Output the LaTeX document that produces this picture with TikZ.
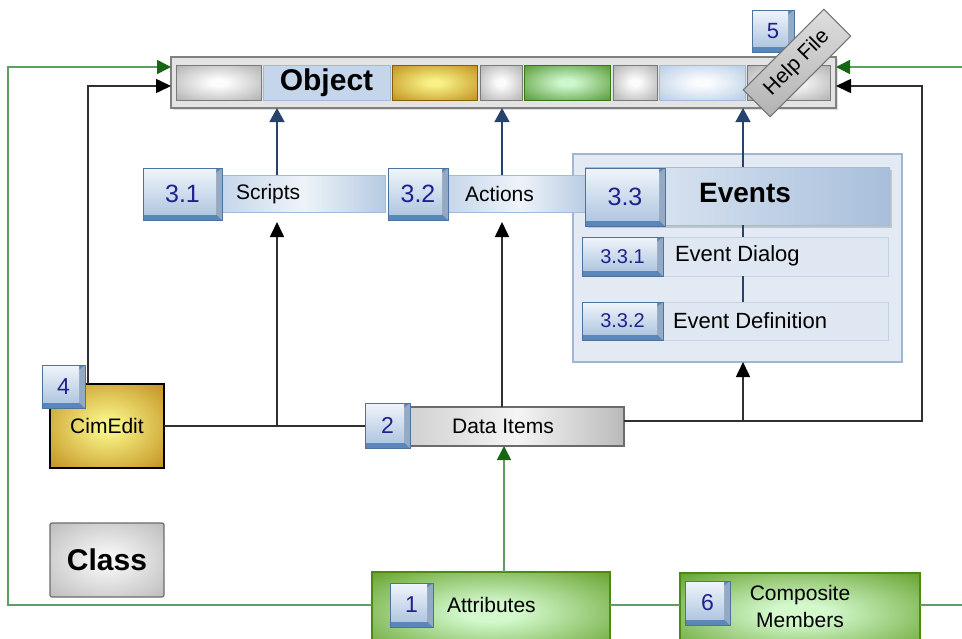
\documentclass[tikz,border=0pt]{standalone}
\usepackage{fontspec}
\setmainfont{Liberation Sans}
\usetikzlibrary{arrows.meta,calc,shadows}
\definecolor{navyline}{HTML}{27436C}
\definecolor{numblue}{HTML}{20208F}
\definecolor{glight}{HTML}{5E9E5E}
\definecolor{gdark}{HTML}{156615}
\definecolor{bline}{HTML}{303030}
\definecolor{badgeedge}{HTML}{5A86BA}
\definecolor{badgeside}{HTML}{93A9C4}
\definecolor{badgehi}{HTML}{F0F5FB}
\definecolor{badgelo}{HTML}{B2C7E0}
\definecolor{barL}{HTML}{C6D6EA}
\definecolor{barM}{HTML}{EEF3F9}
\definecolor{barR}{HTML}{B6CAE2}
\definecolor{barB}{HTML}{A3BAD8}
% soft radial shadings
\definecolor{grayIn}{HTML}{FCFCFC}\definecolor{grayOut}{HTML}{B4B4B4}
\definecolor{goldIn}{HTML}{F8F286}\definecolor{goldOut}{HTML}{C49624}
\definecolor{grnIn}{HTML}{D2F8CC}\definecolor{grnOut}{HTML}{5E9C22}
\definecolor{sgIn}{HTML}{CCF6CC}\definecolor{sgOut}{HTML}{5E9E3E}
\definecolor{bluIn}{HTML}{FAFCFE}\definecolor{bluOut}{HTML}{B6CBE4}
\definecolor{clsIn}{HTML}{F6F6F6}\definecolor{clsOut}{HTML}{B8B8B8}
\pgfdeclareradialshading{graysoft}{\pgfpoint{0bp}{0bp}}{color(0bp)=(grayIn); color(5bp)=(grayIn); color(34bp)=(grayOut); color(50bp)=(grayOut)}
\pgfdeclareradialshading{goldsoft}{\pgfpoint{0bp}{0bp}}{color(0bp)=(goldIn); color(4bp)=(goldIn); color(34bp)=(goldOut); color(50bp)=(goldOut)}
\pgfdeclareradialshading{grnsoft}{\pgfpoint{0bp}{0bp}}{color(0bp)=(grnIn); color(6bp)=(grnIn); color(38bp)=(grnOut); color(50bp)=(grnOut)}
\pgfdeclareradialshading{sgsoft}{\pgfpoint{0bp}{0bp}}{color(0bp)=(sgIn); color(5bp)=(sgIn); color(34bp)=(sgOut); color(50bp)=(sgOut)}
\pgfdeclareradialshading{blusoft}{\pgfpoint{0bp}{0bp}}{color(0bp)=(bluIn); color(5bp)=(bluIn); color(36bp)=(bluOut); color(50bp)=(bluOut)}
\pgfdeclareradialshading{clssoft}{\pgfpoint{0bp}{0bp}}{color(0bp)=(clsIn); color(4bp)=(clsIn); color(38bp)=(clsOut); color(50bp)=(clsOut)}
\begin{document}
\begin{tikzpicture}[x=1pt,y=-1pt,
  font=\fontsize{21}{26}\selectfont,
  base/.style={anchor=north west, inner sep=0pt, outer sep=0pt},
  badge/.style={base, fill=badgeedge, draw=badgeedge!85!black, line width=0.4pt, text=numblue,
    path picture={
      \fill[badgeside] ([shift={(-6pt,-5pt)}]path picture bounding box.north east) --
        (path picture bounding box.north east) -- (path picture bounding box.south east) --
        ([shift={(-6pt,6pt)}]path picture bounding box.south east) -- cycle;
      \shade[top color=badgehi, bottom color=badgelo]
        (path picture bounding box.north west) rectangle ([shift={(-6pt,6pt)}]path picture bounding box.south east);}},
  objouter/.style={base, fill=black!11, draw=black!50, line width=1.5pt, drop shadow={shadow xshift=2pt, shadow yshift=-2pt, opacity=0.25}},
  seg/.style={base, minimum height=35pt, line width=1pt},
  seggray/.style={shade, shading=graysoft, draw=black!52},
  segblue/.style={fill=barL, draw=barB},
  segblue2/.style={shade, shading=blusoft, draw=barB},
  seggold/.style={shade, shading=goldsoft, draw={rgb,255:red,130;green,95;blue,10}},
  seggreen/.style={shade, shading=sgsoft, draw={rgb,255:red,55;green,120;blue,20}},
  helpbox/.style={top color=black!13, bottom color=black!30, draw=black!55, line width=1pt, inner sep=0pt},
  bluebar/.style={base, left color=barL, right color=barR, middle color=barM, draw=barB, line width=0.8pt},
  group/.style={base, fill={rgb,255:red,227;green,234;blue,243}, draw={rgb,255:red,158;green,182;blue,212}, line width=1.2pt},
  evbox/.style={base, left color={rgb,255:red,230;green,237;blue,246}, right color={rgb,255:red,168;green,191;blue,219}, draw=barB, line width=0.8pt, drop shadow={shadow xshift=3pt, shadow yshift=-3pt, opacity=0.35}},
  evrow/.style={base, fill={rgb,255:red,222;green,231;blue,242}, draw={rgb,255:red,196;green,210;blue,229}, line width=0.8pt},
  databar/.style={base, left color=black!18, right color=black!27, middle color=black!4, draw=black!58, line width=1.2pt},
  cimbox/.style={base, shade, shading=goldsoft, draw=black, line width=1.2pt},
  classbox/.style={base, shade, shading=clssoft, draw=black!58, line width=1.2pt, rounded corners=2pt},
  greenbox/.style={base, shade, shading=grnsoft, draw={rgb,255:red,76;green,139;blue,16}, line width=2.4pt},
  txt/.style={inner sep=0pt, outer sep=0pt},
  gline/.style={draw=glight, line width=1.6pt},
  gconn/.style={gline, -{Triangle[width=14pt,length=14pt,color=gdark]}},
  bconn/.style={draw=bline, line width=1.6pt, -{Triangle[width=14pt,length=15pt,color=black]}},
  bplain/.style={draw=bline, line width=1.6pt},
  nconn/.style={draw=navyline, line width=1.4pt, -{Triangle[width=15pt,length=14pt,color=navyline]}},
  nline/.style={draw=navyline, line width=1.6pt}
]
\useasboundingbox (0,0) rectangle (962,638);
\clip (0,0) rectangle (962,638);

% ---------- Object bar ----------
\node[objouter, minimum width=665pt, minimum height=51pt] (obj) at (171,57) {};
\node[seg, seggray, minimum width=85pt] (sgA) at (176,65) {};
\node[seg, segblue, minimum width=127pt, font=\fontsize{30}{34}\selectfont\bfseries] (sgObj) at (263,65) {Object};
\node[seg, seggold, minimum width=85pt] (sgGold) at (392,65) {};
\node[seg, seggray, minimum width=42pt] (sgB) at (480,65) {};
\node[seg, seggreen, minimum width=86pt] (sgGreen) at (524,65) {};
\node[seg, seggray, minimum width=44pt] (sgC) at (613,65) {};
\node[seg, segblue2, minimum width=86pt] (sgBlue) at (659,65) {};
\node[seg, seggray, minimum width=83pt] (sgD) at (747,65) {};

% ---------- Help file ----------
\node[badge, minimum width=42pt, minimum height=42pt, font=\fontsize{22}{26}\selectfont] (b5) at (752,10) {5\hspace{5pt}};
\node[helpbox, rotate=45, minimum width=114pt, minimum height=38pt, font=\fontsize{21}{25}\selectfont] (help) at (797,63) {Help File};

% ---------- Events group ----------
\node[group, minimum width=329pt, minimum height=208pt] (grp) at (573,154) {};

% ---------- Scripts / Actions ----------
\node[bluebar, minimum width=163pt, minimum height=37pt] (scripts) at (222,175) {};
\node[txt, anchor=west] (tscripts) at (236,194) {Scripts};
\node[badge, minimum width=79pt, minimum height=52pt, font=\fontsize{25}{28}\selectfont] (b31) at (143,168) {3.1\hspace{6pt}};
\node[bluebar, minimum width=142pt, minimum height=37pt] (actions) at (448,175) {};
\node[txt, anchor=west] (tactions) at (465,194) {Actions};
\node[badge, minimum width=60pt, minimum height=52pt, font=\fontsize{25}{28}\selectfont] (b32) at (388,168) {3.2\hspace{6pt}};

% ---------- Events ----------
\node[evbox, minimum width=304pt, minimum height=58pt] (events) at (585,167) {};
\node[txt, font=\fontsize{28}{32}\selectfont\bfseries] (tevents) at (745,193) {Events};
\node[badge, minimum width=80pt, minimum height=58pt, font=\fontsize{25}{28}\selectfont] (b33) at (585,168) {3.3\hspace{6pt}};

\node[evrow, minimum width=306pt, minimum height=39pt] (ev331) at (582,237) {};
\node[badge, minimum width=81pt, minimum height=39pt, font=\fontsize{20}{24}\selectfont] (b331) at (582,237) {3.3.1\hspace{5pt}};
\node[txt, anchor=west, font=\fontsize{22}{26}\selectfont] (tev331) at (675,256) {Event Dialog};

\node[evrow, minimum width=306pt, minimum height=38pt] (ev332) at (582,302) {};
\node[badge, minimum width=81pt, minimum height=38pt, font=\fontsize{20}{24}\selectfont] (b332) at (582,302) {3.3.2\hspace{5pt}};
\node[txt, anchor=west, font=\fontsize{22}{26}\selectfont] (tev332) at (673,321) {Event Definition};

% ---------- CimEdit / Data Items ----------
\node[cimbox, minimum width=114pt, minimum height=84pt] (cim) at (50,384) {CimEdit};
\node[badge, minimum width=43pt, minimum height=43pt, font=\fontsize{23}{26}\selectfont] (b4) at (42,365) {4\hspace{5pt}};

\node[databar, minimum width=214pt, minimum height=39pt] (data) at (410,407) {};
\node[txt] (tdata) at (503,426) {Data Items};
\node[badge, minimum width=45pt, minimum height=45pt, font=\fontsize{23}{26}\selectfont] (b2) at (365,403) {2\hspace{5pt}};

% ---------- Class ----------
\node[classbox, minimum width=114pt, minimum height=74pt, font=\fontsize{30}{34}\selectfont\bfseries] (class) at (50,523) {Class};

% ---------- Attributes / Composite ----------
\node[greenbox, minimum width=238pt, minimum height=80pt] (attr) at (372,572) {};
\node[badge, minimum width=43pt, minimum height=44pt, font=\fontsize{23}{26}\selectfont] (b1) at (390,583) {1\hspace{5pt}};
\node[txt, anchor=west] (tattr) at (447,605) {Attributes};

\node[greenbox, minimum width=240pt, minimum height=80pt] (comp) at (680,573) {};
\node[badge, minimum width=45pt, minimum height=44pt, font=\fontsize{23}{26}\selectfont] (b6) at (685,581) {6\hspace{5pt}};
\node[txt, align=center, font=\fontsize{21}{27}\selectfont] (tcomp) at (800,606) {Composite\\Members};

% ---------- coordinates ----------
\coordinate (cL) at (8,67);
\coordinate (eR1) at (962,67);
\coordinate (eR2) at (962,605);
\coordinate (sU) at ($(scripts.north west)+(55,0)$);
\coordinate (aU) at ($(actions.north west)+(54,0)$);
\coordinate (eU) at ($(events.north west)+(158,0)$);
\coordinate (J1) at ($(cim.east)+(113,0)$);
\coordinate (dU) at ($(data.north west)+(92,0)$);
\coordinate (J2) at ($(data.north east)+(119,14)$);
\coordinate (cR) at ($(obj.north east)+(86,29)$);

% ---------- green connectors ----------
\draw[gconn] ($(attr.north west)+(0,33)$) -| (cL) -- ($(obj.north west)+(0,10)$);
\draw[gconn] (eR1) -- ($(obj.north east)+(0,10)$);
\draw[gline] ($(attr.north east)+(0,33)$) -- ($(comp.north west)+(0,32)$);
\draw[gline] ($(comp.north east)+(0,32)$) -- (eR2);
\draw[gconn] ($(attr.north west)+(132,0)$) -- ($(data.south west)+(94,0)$);

% ---------- black connectors ----------
\draw[bconn] ($(cim.north west)+(38,0)$) |- ($(obj.north west)+(0,29)$);
\draw[bplain] (cim.east) -- (cim.east -| b2.west);
\draw[bconn] (J1) -- ($(J1 |- scripts.south)+(0,10)$);
\draw[bconn] (dU) -- ($(aU |- actions.south)+(0,10)$);
\draw[bconn] ($(data.north east)+(0,14)$) -| (cR) -- ($(obj.north east)+(0,29)$);
\draw[bconn] (J2) -- (J2 |- grp.south);

% ---------- navy connectors ----------
\draw[nconn] (sU) -- (sU |- obj.south);
\draw[nconn] (aU) -- (aU |- obj.south);
\draw[nconn] (eU) -- (eU |- obj.south);
\draw[nline] (events.south -| eU) -- (ev331.north -| eU);
\draw[nline] (ev331.south -| eU) -- (ev332.north -| eU);
\end{tikzpicture}
\end{document}
